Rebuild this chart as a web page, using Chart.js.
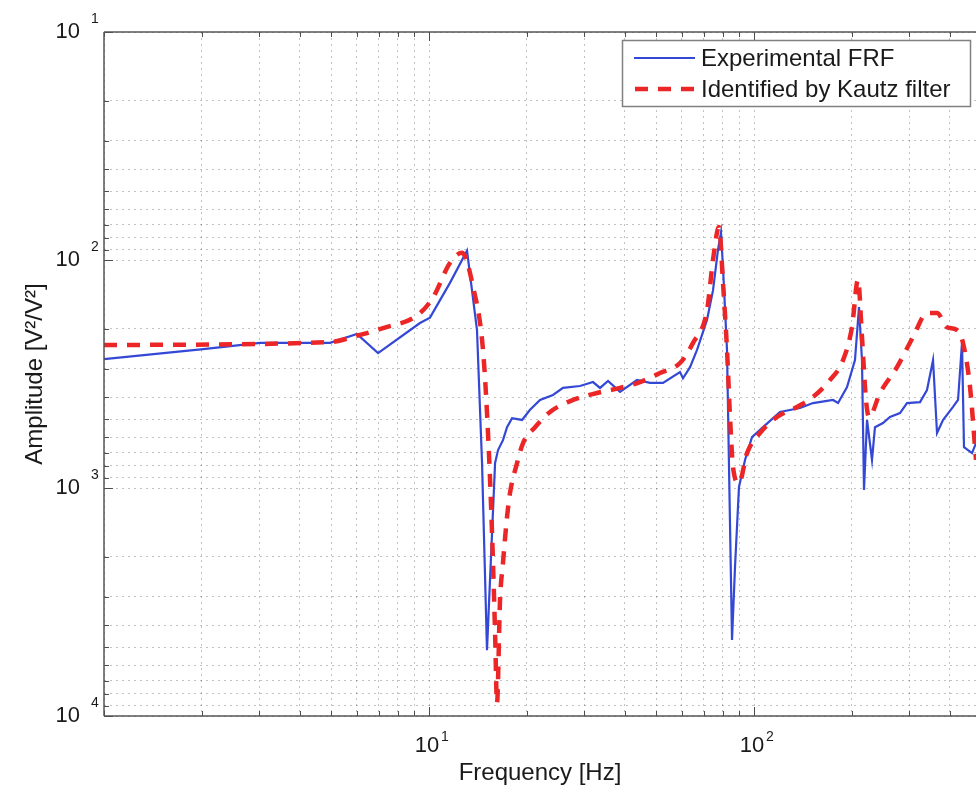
<!DOCTYPE html>
<html>
<head>
<meta charset="utf-8">
<script src="https://cdn.jsdelivr.net/npm/chart.js@4.4.1/dist/chart.umd.min.js"></script>
<style>
  html, body { margin: 0; padding: 0; background: #fff; overflow: hidden; }
  #wrap { width: 976px; height: 785px; }
</style>
</head>
<body>
<div id="wrap"><canvas id="frf" width="976" height="785"></canvas></div>
<script>
// Experimental FRF (blue solid)
const expFreq = [1.0, 2.02, 3.02, 4.96, 6.0, 6.97, 9.38, 10.07, 11.6, 13.09, 14.05, 14.56, 15.08, 15.97, 16.31, 16.89,
    17.38, 18.01, 19.33, 20.46, 21.96, 24.07, 25.84, 29.15, 31.96, 33.59, 35.55, 38.7, 43.65, 47.86, 52.48, 59.19,
    60.46, 63.56, 66.79, 71.7, 74.79, 77.48, 79.15, 80.28, 82.59, 83.77, 85.57, 87.41, 89.9, 93.83, 98.59, 106.6,
    120.2, 138.5, 151.9, 175.0, 181.4, 193.3, 204.5, 210.4, 214.9, 218.0, 222.7, 230.7, 235.6, 249.4, 262.1, 281.3,
    295.6, 324.2, 340.6, 355.5, 365.7, 381.5, 409.6, 424.4, 436.5, 442.7, 468.7, 482];
const expAmp = [272, 246, 231, 231, 211, 256, 189, 179, 126, 91, 203, 776, 5140, 776, 682, 617,
    541, 494, 503, 454, 411, 391, 364, 357, 343, 364, 339, 379, 336, 346, 346, 310,
    330, 295, 248, 183, 136, 90, 75.6, 108, 248, 810, 4640, 2220, 990, 753, 598, 541,
    464, 446, 424, 411, 424, 361, 275, 161, 275, 1020, 503, 753, 541, 519, 488, 469,
    424, 420, 372, 275, 574, 503, 441, 411, 231, 662, 703, 635];

// Identified by Kautz filter (red dashed)
const kautzFreq = [1.0, 4.96, 6.0, 7.22, 9.19, 10.29, 11.6, 12.64, 13.66, 14.66, 15.19, 15.63, 15.97, 16.19, 16.54,
    16.89, 17.38, 17.75, 18.66, 19.47, 21.2, 23.57, 27.74, 32.88, 38.7, 44.59, 51.38, 59.19, 64.92, 71.7, 74.79,
    78.03, 80.28, 82.59, 84.37, 86.18, 89.9, 95.17, 104.3, 117.7, 135.6, 151.9, 171.3, 187.9, 200.2, 208.9, 214.9,
    221.1, 225.9, 244.2, 275.4, 308.4, 340.6, 365.7, 392.5, 421.4, 439.6, 462.0, 482];
const kautzAmp = [236, 229, 215, 199, 175, 146, 103, 93, 131, 248, 574, 1575, 4320, 8770, 3100,
    2130, 1340, 1052, 778, 635, 541, 464, 411, 383, 364, 343, 313, 283, 231, 166, 100,
    71.7, 126, 248, 488, 810, 951, 703, 574, 488, 441, 399, 336, 275, 197, 122, 218,
    411, 488, 383, 295, 218, 171, 171, 197, 203, 231, 361, 753];

const freqTicks = [10, 100];
const ampTicks = [10, 100, 1000, 10000];
const seriesNames = ['Experimental FRF', 'Identified by Kautz filter'];

const FONT = "'Liberation Sans', Arial, Helvetica, sans-serif";
const BLUE = 'rgb(52, 72, 214)';
const RED = 'rgb(236, 38, 38)';
const RED_DASH = [13, 10];
const GRID = 'rgba(0, 0, 0, 0.24)';

function toPoints(xs, ys) {
    return xs.map((x, i) => ({ x: x, y: ys[i] }));
}

// matlab style grid: every 1..9 x 10^n
function logGrid(scale) {
    const ticks = [];
    const lo = Math.floor(Math.log10(scale.min));
    const hi = Math.ceil(Math.log10(scale.max));
    for (let e = lo; e <= hi; e++) {
        for (let m = 1; m <= 9; m++) {
            const v = m * Math.pow(10, e);
            if (v >= scale.min * 0.999 && v <= scale.max * 1.001) ticks.push({ value: v });
        }
    }
    scale.ticks = ticks;
}

function seg(ctx, x1, y1, x2, y2) {
    ctx.beginPath();
    ctx.moveTo(x1, y1);
    ctx.lineTo(x2, y2);
    ctx.stroke();
}

const matlabFrame = {
    id: 'matlabFrame',
    afterDraw(chart) {
        const { ctx, chartArea: a, scales: { x, y } } = chart;
        ctx.save();

        // inward ticks
        ctx.strokeStyle = '#4d4d4d';
        ctx.lineWidth = 1;
        x.ticks.forEach(t => {
            const px = Math.round(x.getPixelForValue(t.value)) + 0.5;
            const len = freqTicks.includes(t.value) ? 9 : 5;
            seg(ctx, px, a.bottom, px, a.bottom - len);
            seg(ctx, px, a.top, px, a.top + len);
        });
        y.ticks.forEach(t => {
            const py = Math.round(y.getPixelForValue(t.value)) + 0.5;
            const len = ampTicks.includes(t.value) ? 9 : 5;
            seg(ctx, a.left, py, a.left + len, py);
        });

        // axes box (right side is outside the picture)
        ctx.strokeStyle = '#555';
        ctx.lineWidth = 1.5;
        seg(ctx, a.left, a.top, a.right, a.top);
        seg(ctx, a.left, a.top, a.left, a.bottom);
        seg(ctx, a.left, a.bottom, a.right, a.bottom);

        // tick labels 10^n
        ctx.fillStyle = '#1a1a1a';
        ctx.textBaseline = 'middle';
        ampTicks.forEach(v => {
            const py = y.getPixelForValue(v);
            ctx.font = '22px ' + FONT;
            ctx.textAlign = 'right';
            ctx.fillText('10', a.left - 24, py);
            ctx.font = '14px ' + FONT;
            ctx.textAlign = 'left';
            ctx.fillText(String(Math.round(Math.log10(v))), a.left - 13, py - 13);
        });
        freqTicks.forEach(v => {
            const px = x.getPixelForValue(v);
            ctx.font = '22px ' + FONT;
            ctx.textAlign = 'center';
            ctx.fillText('10', px - 2, a.bottom + 30);
            ctx.font = '14px ' + FONT;
            ctx.textAlign = 'left';
            ctx.fillText(String(Math.round(Math.log10(v))), px + 12, a.bottom + 21);
        });

        // axis titles
        ctx.font = '24px ' + FONT;
        ctx.textAlign = 'center';
        ctx.fillText('Frequency [Hz]', (a.left + a.right) / 2, a.bottom + 57);
        ctx.save();
        ctx.translate(35, (a.top + a.bottom) / 2);
        ctx.rotate(-Math.PI / 2);
        ctx.fillText('Amplitude [V²/V²]', 0, 0);
        ctx.restore();

        // legend box
        const bx = 622, by = 40, bw = 348, bh = 66;
        ctx.fillStyle = '#fff';
        ctx.fillRect(bx, by, bw, bh);
        ctx.strokeStyle = '#808080';
        ctx.lineWidth = 1.5;
        ctx.strokeRect(bx + 0.5, by + 0.5, bw, bh);

        ctx.strokeStyle = BLUE;
        ctx.lineWidth = 2;
        seg(ctx, 634, 58, 695, 58);
        ctx.strokeStyle = RED;
        ctx.lineWidth = 4.5;
        ctx.setLineDash(RED_DASH);
        seg(ctx, 635, 89, 696, 89);
        ctx.setLineDash([]);

        ctx.fillStyle = '#1a1a1a';
        ctx.font = '24px ' + FONT;
        ctx.textAlign = 'left';
        ctx.fillText(seriesNames[0], 701, 59);
        ctx.fillText(seriesNames[1], 701, 90);

        ctx.restore();
    }
};

const config = {
    type: 'line',
    data: {
        datasets: [{
            label: seriesNames[0],
            data: toPoints(expFreq, expAmp),
            borderColor: BLUE,
            borderWidth: 2.2,
            pointRadius: 0,
            tension: 0,
            order: 2
        }, {
            label: seriesNames[1],
            data: toPoints(kautzFreq, kautzAmp),
            borderColor: RED,
            borderWidth: 4.5,
            borderDash: RED_DASH,
            pointRadius: 0,
            cubicInterpolationMode: 'monotone',
            order: 1
        }]
    },
    options: {
        responsive: false,
        animation: false,
        devicePixelRatio: 1,
        layout: { padding: { top: 32, left: 0, right: 0, bottom: 0 } },
        plugins: {
            legend: { display: false },
            tooltip: { enabled: false }
        },
        scales: {
            x: {
                type: 'logarithmic',
                min: 1,
                max: 482,
                afterBuildTicks: logGrid,
                afterFit: s => { s.height = 69; },
                ticks: { display: false },
                grid: { color: GRID, lineWidth: 1, drawTicks: false },
                border: { display: false, dash: [2, 4] }
            },
            y: {
                type: 'logarithmic',
                reverse: true,
                min: 10,
                max: 10000,
                afterBuildTicks: logGrid,
                afterFit: s => { s.width = 104; },
                ticks: { display: false },
                grid: { color: GRID, lineWidth: 1, drawTicks: false },
                border: { display: false, dash: [2, 4] }
            }
        }
    },
    plugins: [matlabFrame]
};

new Chart(document.getElementById('frf'), config);
</script>
</body>
</html>
